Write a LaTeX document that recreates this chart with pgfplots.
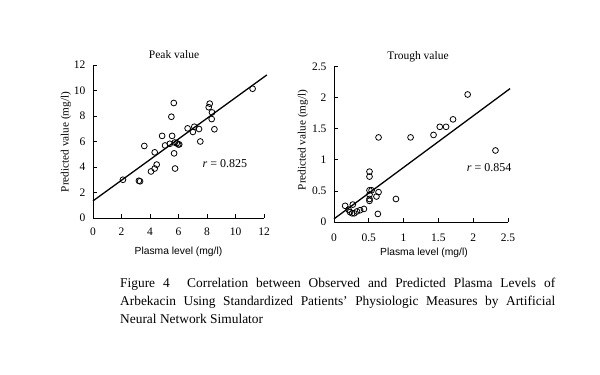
\documentclass[border=0pt]{standalone}
\usepackage{fontspec}
\setmainfont{Liberation Serif}
\setsansfont{Liberation Sans}
\usepackage{pgfplots}
\pgfplotsset{compat=1.18}
\begin{document}
\begin{tikzpicture}
\useasboundingbox (0pt,0pt) rectangle (600pt,375pt);
\pgfplotsset{
  myax/.style={
    scale only axis,
    axis x line*=bottom, axis y line*=left,
    axis line style={line width=0.9pt},
    tick align=inside, major tick length=4pt,
    tick style={line width=0.7pt,black},
    clip=false,
    /pgf/number format/assume math mode=true,
    tick label style={font=\fontsize{11.5}{12}\selectfont},
    xticklabel style={yshift=-6pt},
    yticklabel style={xshift=-4pt},
  },
  pts/.style={only marks, mark=o, mark size=2.9pt, mark options={line width=0.8pt, black}},
  reg/.style={black, line width=1.3pt, no marks},
}
\begin{axis}[myax, at={(93pt,157pt)}, anchor=south west, width=171pt, height=153pt,
  xmin=0, xmax=12, ymin=0, ymax=12,
  xtick={0,2,4,6,8,10,12}, ytick={0,2,4,6,8,10,12}]
\addplot[pts] coordinates {
 (2.1,3.0) (3.22,2.92) (3.3,2.88) (3.6,5.65) (4.07,3.65) (4.33,3.88) (4.47,4.19)
 (4.33,5.15) (4.85,6.44) (5.06,5.69) (5.39,5.82) (5.55,6.44) (5.5,7.94) (5.67,9.02)
 (5.69,5.07) (5.76,3.88) (5.74,5.92) (5.88,5.87) (5.98,5.77) (6.05,5.77) (6.64,7.03)
 (7.01,6.75) (7.11,7.16) (7.44,6.98) (7.53,6.0) (8.12,8.69) (8.19,8.97) (8.35,8.28)
 (8.33,7.76) (8.52,6.96) (11.2,10.14)};
\addplot[reg] coordinates {(0,1.34) (12.2,11.22)};
\node at (axis cs:9.26,4.24) {\fontsize{12}{12}\selectfont\textit{r} = 0.825};
\node at (rel axis cs:0.474,1.07) {\fontsize{11.5}{12}\selectfont Peak value};
\node at (rel axis cs:0.5,-0.222) {\sffamily\fontsize{10.3}{12}\selectfont Plasma level (mg/l)};
\node[rotate=90] at (rel axis cs:-0.158,0.497) {\fontsize{11.2}{12}\selectfont Predicted value (mg/l)};
\end{axis}
\begin{axis}[myax, at={(334pt,153pt)}, anchor=south west, width=174pt, height=155.5pt,
  xmin=0, xmax=2.5, ymin=0, ymax=2.5,
  xtick={0,0.5,1,1.5,2,2.5}, ytick={0,0.5,1,1.5,2,2.5},
  xticklabels={0,0.5,1,1.5,2,2.5}, yticklabels={0,0.5,1,1.5,2,2.5},
  xticklabel style={yshift=-2pt}]
\addplot[pts] coordinates {
 (0.16,0.26) (0.27,0.28) (0.21,0.20) (0.23,0.16) (0.26,0.14) (0.29,0.14) (0.33,0.17)
 (0.375,0.19) (0.43,0.21) (0.51,0.51) (0.51,0.81) (0.51,0.73) (0.51,0.44) (0.51,0.34)
 (0.51,0.37) (0.54,0.51) (0.61,0.41) (0.64,1.36) (0.64,0.48) (0.63,0.13) (0.89,0.37)
 (1.10,1.36) (1.43,1.40) (1.52,1.53) (1.61,1.53) (1.71,1.65) (1.92,2.05) (2.32,1.15)};
\addplot[reg] coordinates {(0,0.05) (2.53,2.145)};
\node at (axis cs:2.23,0.876) {\fontsize{12}{12}\selectfont\textit{r} = 0.854};
\node at (rel axis cs:0.483,1.061) {\fontsize{11.5}{12}\selectfont Trough value};
\node at (rel axis cs:0.517,-0.198) {\sffamily\fontsize{10.3}{12}\selectfont Plasma level (mg/l)};
\node[rotate=90] at (rel axis cs:-0.178,0.527) {\fontsize{11.2}{12}\selectfont Predicted value (mg/l)};
\end{axis}
\node[anchor=north west, inner sep=0pt] at (120pt,97pt) {\parbox[t]{435pt}{\fontsize{13.4}{18}\selectfont\hyphenpenalty=10000\noindent Figure 4\hspace{1.3em}Correlation between Observed and Predicted Plasma Levels of Arbekacin Using Standardized Patients' Physiologic Measures by Artificial Neural Network Simulator}};
\end{tikzpicture}
\end{document}
